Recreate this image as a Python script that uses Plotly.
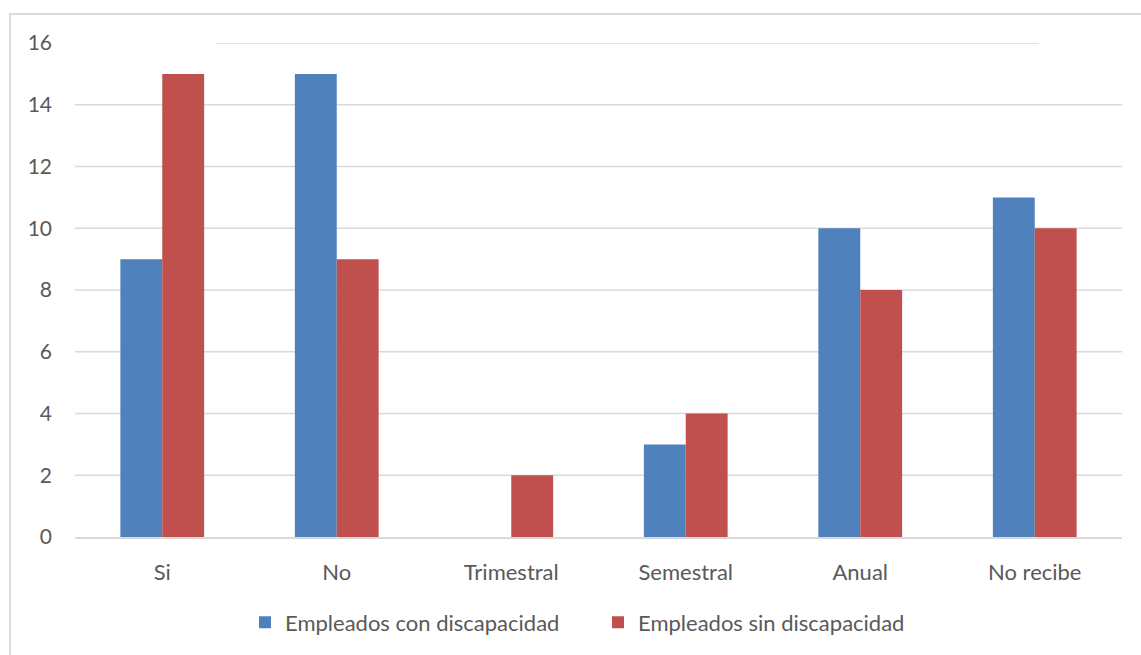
import plotly.graph_objects as go

categorias = ["Si", "No", "Trimestral", "Semestral", "Anual", "No recibe"]
con_discapacidad = [9, 15, 0, 3, 10, 11]
sin_discapacidad = [15, 9, 2, 4, 8, 10]
y_ticks = [0, 2, 4, 6, 8, 10, 12, 14, 16]

W, H = 1141, 655
ML, MR, MT, MB = 75, 19, 43, 116
pw, ph = W - ML - MR, H - MT - MB

FONT = "Lato"
TXT = "#595959"
GRID = "#d9d9d9"

fig = go.Figure()
fig.add_bar(name="Empleados con discapacidad", x=categorias, y=con_discapacidad,
            marker=dict(color="#4F81BD", line=dict(width=0)))
fig.add_bar(name="Empleados sin discapacidad", x=categorias, y=sin_discapacidad,
            marker=dict(color="#C0504D", line=dict(width=0)))

def px_to_paper_x(px):
    return (px - ML) / pw

def px_to_paper_y(py):
    return (H - MB - py) / ph

shapes = []
# outer chart frame
shapes.append(dict(type="rect", xref="paper", yref="paper",
                   x0=px_to_paper_x(10), x1=px_to_paper_x(1150),
                   y0=px_to_paper_y(665), y1=px_to_paper_y(14),
                   line=dict(color="#d9d9d9", width=2), fillcolor="rgba(0,0,0,0)",
                   layer="below"))
# horizontal gridlines
for v in y_ticks[1:-1]:
    shapes.append(dict(type="line", xref="paper", yref="y", x0=0, x1=1, y0=v, y1=v,
                       line=dict(color=GRID, width=1.5), layer="below"))
# top gridline (shorter)
shapes.append(dict(type="line", xref="paper", yref="y",
                   x0=px_to_paper_x(216), x1=px_to_paper_x(1039),
                   y0=y_ticks[-1], y1=y_ticks[-1],
                   line=dict(color=GRID, width=1.5), layer="below"))

fig.update_layout(
    width=W, height=H,
    margin=dict(l=ML, r=MR, t=MT, b=MB),
    paper_bgcolor="white", plot_bgcolor="white",
    barmode="group", bargap=0.52, bargroupgap=0,
    font=dict(family=FONT, size=21, color=TXT),
    shapes=shapes,
    showlegend=True,
    legend=dict(orientation="h", x=px_to_paper_x(245), xanchor="left",
                y=-0.173, yanchor="middle",
                font=dict(family=FONT, size=22, color=TXT),
                itemwidth=30, tracegroupgap=0,
                entrywidth=308, entrywidthmode="pixels"),
    xaxis=dict(showgrid=False, showline=True, linecolor=GRID, linewidth=1.5,
               ticks="", ticklabelstandoff=15,
               tickfont=dict(family=FONT, size=22, color=TXT)),
    yaxis=dict(range=[0, 16], tickvals=y_ticks, showgrid=False, zeroline=False,
               showline=False, ticks="", ticklabelstandoff=22,
               tickfont=dict(family=FONT, size=21, color=TXT)),
)

fig.write_html("out.html")
